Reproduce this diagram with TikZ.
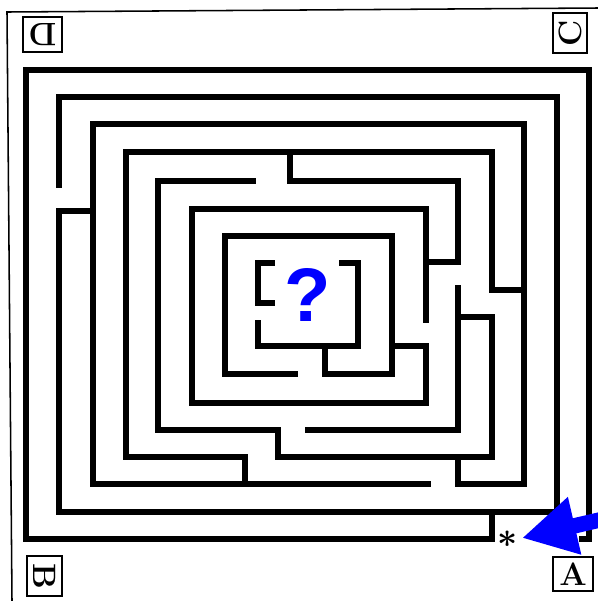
\documentclass[tikz,border=0pt]{standalone}
\usepackage{fontspec}
\usepackage{xcolor}
\usepackage{tikz}
\usetikzlibrary{arrows.meta}
\newfontfamily\qfont{Liberation Sans}
\definecolor{mazeblue}{RGB}{0,0,255}

\begin{document}
\begin{tikzpicture}[
  x=0.025cm, y=-0.025cm,
  wall/.style={draw=black, line width=3.9pt, line cap=rect, line join=miter},
  frameline/.style={draw=black, line width=1.1pt},
  letterbox/.style={draw=black, line width=1.3pt, minimum width=0.98cm, minimum height=0.86cm,
                    inner sep=0pt, font=\fontsize{23}{23}\selectfont\bfseries},
  bluearrow/.style={-{Triangle[length=1.35cm, width=1.38cm]}, draw=mazeblue, line width=11pt},
]
\useasboundingbox (0,0) rectangle (598,601);

%% Outer frame (top and left edges only)
\draw[frameline] (12,601) -- (7,12) -- (598,8);

%% Corner letters
\node[letterbox, rotate=180] (boxD) at (42.5,34.5) {D};
\node[letterbox, rotate=90]  (boxC) at (570,33) {C};
\node[letterbox, rotate=-90] (boxB) at (44.5,576) {B};
\node[letterbox]             (boxA) at (573,574) {A};

%% Ring 0 and the way in
\draw[wall] (492,512) -- (492,539) -- (26,539) -- (26,70) -- (589,70) -- (589,539) -- (582,539);

%% Ring 1
\draw[wall] (59,185) -- (59,97) -- (557,97) -- (557,512) -- (59,512) -- (59,211) -- (93,211);

%% Ring 2
\draw[wall] (458,460) -- (458,484) -- (524,484) -- (524,124) -- (93,124) -- (93,484) -- (428,484);

%% Ring 3
\draw[wall] (524,290) -- (492,290) -- (492,152) -- (126,152) -- (126,457) -- (245,457) -- (245,484);
\draw[wall] (458,317) -- (492,317) -- (492,457) -- (278,457) -- (278,430) -- (158,430) -- (158,181) -- (253,181);

%% Ring 4
\draw[wall] (290,152) -- (290,181) -- (458,181) -- (458,262) -- (426,262);
\draw[wall] (458,288) -- (458,430) -- (308,430);

%% Ring 5
\draw[wall] (426,320) -- (426,209) -- (192,209) -- (192,403) -- (426,403) -- (426,346) -- (392,346);

%% Ring 6
\draw[wall] (295,374) -- (225,374) -- (225,236) -- (392,236) -- (392,374) -- (325,374) -- (325,346);

%% Ring 7 (centre)
\draw[wall] (272,263) -- (258,263) -- (258,303) -- (272,303);
\draw[wall] (342,263) -- (358,263) -- (358,346) -- (258,346) -- (258,323);

\node[text=mazeblue, font=\qfont\bfseries\fontsize{54}{54}\selectfont] (question) at (307.5,294.5) {?};

%% Entry mark and arrow
\node[inner sep=0pt, font=\fontsize{28}{28}\selectfont\boldmath] (star) at (508,539) {$\ast$};
\coordinate (entry) at (522,538);
\coordinate (arrowtail) at (606,518.5);
\draw[bluearrow] (arrowtail) -- (entry);

\end{tikzpicture}
\end{document}
